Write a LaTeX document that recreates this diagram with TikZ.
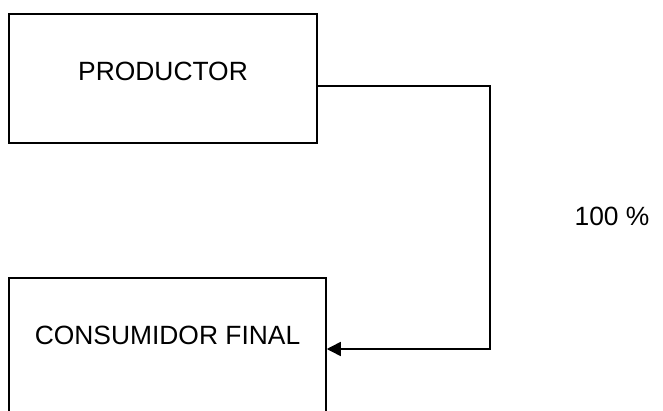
\documentclass[tikz,border=0pt]{standalone}
\usepackage{fontspec}
\setmainfont{Liberation Sans}
\usepackage{tikz}
\usetikzlibrary{arrows.meta, positioning}

\begin{document}
\begin{tikzpicture}[x=1pt, y=-1pt, line width=1.5pt, >={Triangle[length=14pt, width=14pt]},
    every node/.style={font=\fontsize{26.4}{32}\selectfont},
    agentbox/.style={draw, rectangle, inner sep=0pt, text height=19pt}]
        % Canvas
        \useasboundingbox (0, 0) rectangle (663, 411);
        \clip (0, 0) rectangle (663, 411);

        % Nodes
        \node[agentbox, minimum width=308pt, minimum height=129pt, text depth=15pt] (prod) at (163, 78.5) {PRODUCTOR};
        \node[agentbox, minimum width=317pt, minimum height=142pt, text depth=29pt] (cons) at (167.5, 349) {CONSUMIDOR FINAL};
        \node[anchor=base] (share) at (612, 226) {100 \%};
        \coordinate (bend) at (490, 349);

        % Directed edges
        \draw[->] ([yshift=-7.5pt]prod.east) -| (bend) -- (cons.east);
    \end{tikzpicture}
\end{document}
